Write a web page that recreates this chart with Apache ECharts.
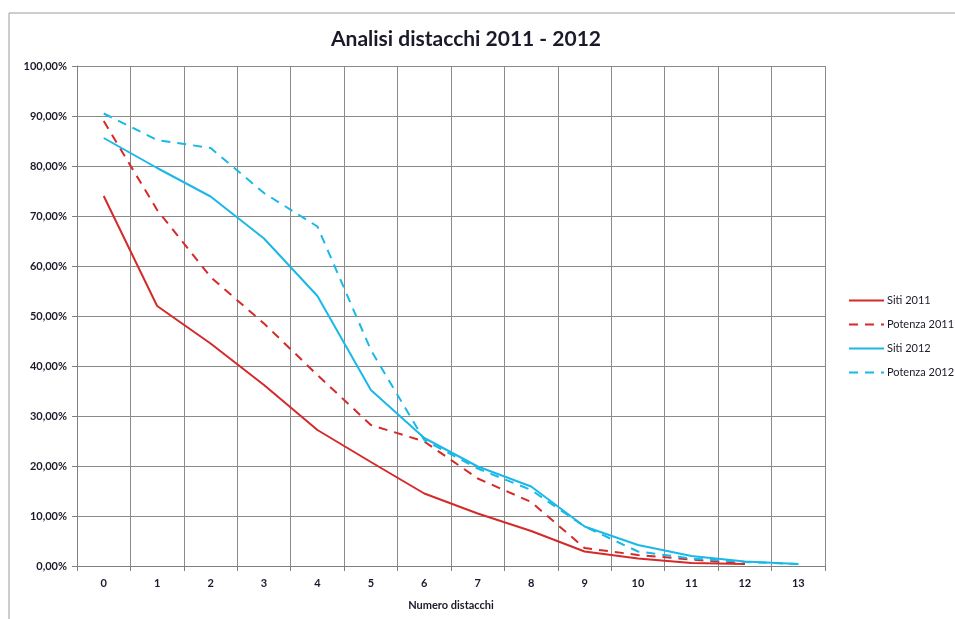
<!DOCTYPE html>
<html>
<head>
<meta charset="utf-8">
<script src="https://cdn.jsdelivr.net/npm/echarts@6/dist/echarts.min.js"></script>
<style>
html,body{margin:0;padding:0;background:#fff;}
#c{width:955px;height:619px;}
</style>
</head>
<body>
<div id="c"></div>
<script>
const categories = ['0','1','2','3','4','5','6','7','8','9','10','11','12','13'];
const siti2011 = [74.0, 52.0, 44.5, 36.2, 27.2, 20.8, 14.5, 10.5, 7.0, 2.9, 1.5, 0.6, 0.4, null];
const potenza2011 = [89.0, 71.2, 57.8, 48.5, 38.2, 28.2, 24.9, 17.5, 12.8, 3.6, 2.2, 1.3, 0.4, null];
const siti2012 = [85.6, 79.6, 73.9, 65.5, 54.0, 35.2, 25.6, 19.9, 15.9, 7.9, 4.2, 2.0, 0.9, 0.4];
const potenza2012 = [90.5, 85.2, 83.6, 74.6, 67.9, 43.2, 25.2, 19.5, 15.2, 7.9, 2.9, 1.5, 0.8, 0.4];
const yTicks = [0,10,20,30,40,50,60,70,80,90,100];

const RED = '#d42a2a';
const BLUE = '#1ab8e8';
const FONT = 'Lato';
const DASH = [9, 7];

const chart = echarts.init(document.getElementById('c'), null, {renderer:'canvas'});
function fmt(v){ return v.toFixed(2).replace('.', ',') + '%'; }

chart.setOption({
  animation: false,
  backgroundColor: '#fff',
  title: {
    text: 'Analisi distacchi 2011 - 2012',
    left: 461, top: 24, textAlign: 'center',
    textStyle: {fontFamily: FONT, fontSize: 21, fontWeight: 'bold', color: '#1a1a2a'}
  },
  graphic: [{
    type: 'polyline',
    shape: {points: [[9, 619], [9, 13], [955, 13]]},
    style: {stroke: '#9a9a9a', lineWidth: 1, fill: null},
    silent: true
  }],
  legend: {
    orient: 'vertical',
    left: 843, top: 290,
    itemWidth: 35, itemHeight: 10, itemGap: 13,
    itemStyle: {color: 'transparent', borderColor: 'transparent', borderWidth: 0, opacity: 0},
    textStyle: {fontFamily: FONT, fontSize: 11, color: '#1a1a2a', padding: [0, 0, 0, -2]},
    data: ['Siti 2011','Potenza 2011','Siti 2012','Potenza 2012']
  },
  grid: {left: 77, right: 130, top: 66, bottom: 53, containLabel: false},
  xAxis: {
    type: 'category',
    data: categories,
    boundaryGap: true,
    name: 'Numero distacchi',
    nameLocation: 'middle',
    nameGap: 34,
    nameTextStyle: {fontFamily: FONT, fontSize: 11, fontWeight: 'bold', color: '#1a1a2a'},
    axisLine: {show: true, lineStyle: {color: '#808080', width: 1}},
    axisTick: {show: true, length: 5, lineStyle: {color: '#808080'}},
    axisLabel: {fontFamily: FONT, fontSize: 11, fontWeight: 'bold', color: '#1a1a2a', margin: 12},
    splitLine: {show: true, lineStyle: {color: '#8a8a8a', width: 1}}
  },
  yAxis: {
    type: 'value',
    min: 0, max: 100, interval: 10,
    axisLine: {show: true, lineStyle: {color: '#808080'}},
    axisTick: {show: true, length: 5, lineStyle: {color: '#808080'}},
    axisLabel: {fontFamily: FONT, fontSize: 11, fontWeight: 'bold', color: '#1a1a2a', margin: 10,
      formatter: function(v){ return yTicks.indexOf(v) >= 0 ? fmt(v) : ''; }},
    splitLine: {show: true, lineStyle: {color: '#8a8a8a', width: 1}}
  },
  series: [
    {name: 'Siti 2011', type: 'line', data: siti2011, symbol: 'none', color: RED,
      lineStyle: {color: RED, width: 2, type: 'solid'}},
    {name: 'Potenza 2011', type: 'line', data: potenza2011, symbol: 'none', color: RED,
      lineStyle: {color: RED, width: 2, type: DASH}},
    {name: 'Siti 2012', type: 'line', data: siti2012, symbol: 'none', color: BLUE,
      lineStyle: {color: BLUE, width: 2, type: 'solid'}},
    {name: 'Potenza 2012', type: 'line', data: potenza2012, symbol: 'none', color: BLUE,
      lineStyle: {color: BLUE, width: 2, type: DASH}}
  ]
});
</script>
</body>
</html>
